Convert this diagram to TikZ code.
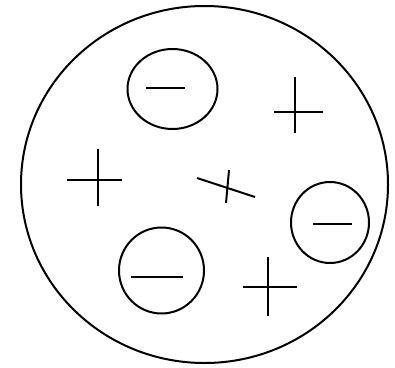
\documentclass[tikz,border=0pt]{standalone}
\usetikzlibrary{shapes.geometric}

\begin{document}
\begin{tikzpicture}[x=0.75pt, y=-0.75pt,
    stroke/.style={line width=1.5pt, black},
    ion/.style={draw, line width=1.5pt, ellipse, inner sep=0pt},
    charge/.style={line width=1.5pt, line cap=butt}]
    \useasboundingbox (0,0) rectangle (395,367);
    % outer body
    \draw[stroke] (204.5,184.5) ellipse [x radius=183.5, y radius=178.5];
    % negative ions
    \node[ion, minimum width=90*0.75pt, minimum height=80*0.75pt] (negtop) at (172.5,89) {};
    \node[ion, minimum width=78*0.75pt, minimum height=81*0.75pt] (negright) at (330,222.5) {};
    \node[ion, minimum width=85*0.75pt, minimum height=86*0.75pt] (negbot) at (161.5,270.5) {};
    \draw[charge] (146,88) -- (185,88);
    \draw[charge] (313,224) -- (352,224);
    \draw[charge] (131,277) -- (183,277);
    % positive charges
    \draw[charge] (274,112) -- (323,112) (295,77) -- (295,133);
    \draw[charge] (67,180) -- (122,180) (98,149) -- (98,206);
    \draw[charge] (243,287) -- (297,287) (268,257) -- (268,316);
    % tilted cross in the middle
    \draw[charge] (197,178) -- (255,197) (229,170) -- (226,203);
\end{tikzpicture}
\end{document}
